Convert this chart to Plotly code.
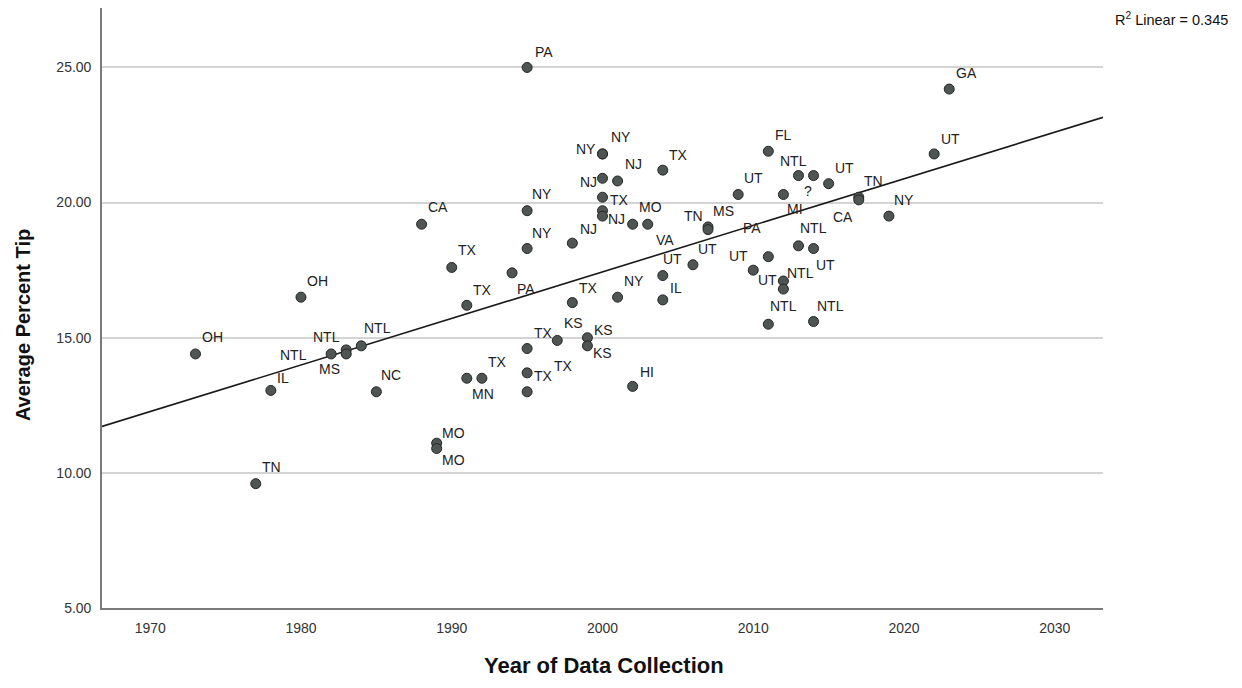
import numpy as np
import plotly.graph_objects as go

# ---------------- data ----------------
years = [1973, 1977, 1978, 1980, 1982, 1983, 1983, 1984, 1985, 1988,
         1989, 1989, 1990, 1991, 1991, 1992, 1994, 1995, 1995, 1995,
         1995, 1995, 1995, 1997, 1998, 1998, 1999, 1999, 2000, 2000,
         2000, 2000, 2000, 2000, 2001, 2001, 2002, 2002, 2003, 2004,
         2004, 2004, 2006, 2007, 2007, 2009, 2010, 2011, 2011, 2011,
         2012, 2012, 2012, 2013, 2013, 2014, 2014, 2014, 2015, 2017,
         2017, 2019, 2022, 2023]
tips = [14.4, 9.6, 13.05, 16.5, 14.4, 14.55, 14.4, 14.7, 13.0, 19.2,
        11.1, 10.9, 17.6, 16.2, 13.5, 13.5, 17.4, 25.0, 19.7, 18.3,
        14.6, 13.7, 13.0, 14.9, 18.5, 16.3, 15.0, 14.7, 21.8, 21.8,
        20.9, 20.2, 19.7, 19.5, 20.8, 16.5, 19.2, 13.2, 19.2, 21.2,
        17.3, 16.4, 17.7, 19.1, 19.0, 20.3, 17.5, 21.9, 18.0, 15.5,
        20.3, 17.1, 16.8, 21.0, 18.4, 21.0, 18.3, 15.6, 20.7, 20.2,
        20.1, 19.5, 21.8, 24.2]
states = ["OH", "TN", "IL", "OH", "NTL", "NTL", "MS", "NTL", "NC", "CA",
          "MO", "MO", "TX", "TX", "MN", "TX", "PA", "PA", "NY", "NY",
          "TX", "TX", "TX", "KS", "NJ", "TX", "KS", "KS", "NY", "NY",
          "NJ", "TX", "", "NJ", "NJ", "NY", "MO", "HI", "VA", "TX",
          "UT", "IL", "UT", "MS", "TN", "UT", "UT", "FL", "PA", "NTL",
          "MI", "NTL", "UT", "NTL", "NTL", "?", "UT", "NTL", "UT", "TN",
          "CA", "NY", "UT", "GA"]

x_tick_values = [1970, 1980, 1990, 2000, 2010, 2020, 2030]
y_tick_values = [5, 10, 15, 20, 25]
r2_text = "0.345"
x_title = "Year of Data Collection"
y_title = "Average Percent Tip"

# ---------------- styling ----------------
X_RANGE = [1966.8, 2033.2]
Y_RANGE = [5, 27.2]
# label offsets in pixels (right, down) relative to each point
label_offsets = [
    (17, -17), (16, -17), (12, -12), (17, -16), (-38, 1), (-20, -13), (-17, 15), (16, -18), (15, -17), (16, -17),
    (17, -10), (17, 11), (16, -17), (16, -15), (16, 16), (16, -16), (14, 16), (17, -15), (15, -17), (15, -16),
    (16, -16), (36, -7), (16, -16), (16, -17), (16, -14), (16, -15), (16, -8), (15, 7), (-17, -5), (18, -17),
    (-14, 4), (17, 3), (0, 0), (14, 3), (16, -17), (16, -16), (18, -17), (14, -14), (17, 16), (16, -15),
    (10, -17), (13, -12), (15, -16), (15, -16), (-15, -14), (15, -16), (-15, -14), (15, -16), (-16, -29), (15, -18),
    (12, 15), (17, -8), (-16, -9), (-5, -15), (15, -18), (-6, 15), (12, 16), (17, -16), (16, -16), (15, -16),
    (-16, 17), (15, -16), (16, -15), (17, -16),
]

FONT = "Liberation Sans, Arial, sans-serif"

# linear fit computed from the data
slope, intercept = np.polyfit(np.array(years, float), np.array(tips, float), 1)
x_fit = np.array(X_RANGE)
y_fit = intercept + slope * x_fit

fig = go.Figure()
fig.add_trace(go.Scatter(
    x=x_fit, y=y_fit, mode="lines",
    line=dict(color="#1a1a1a", width=1.6),
    hoverinfo="skip", showlegend=False,
))
fig.add_trace(go.Scatter(
    x=years, y=tips, mode="markers",
    marker=dict(size=10, color="#4e5552", line=dict(color="#262626", width=1)),
    text=states, showlegend=False,
))

for xv, yv, lab, (dx, dy) in zip(years, tips, states, label_offsets):
    if not lab:
        continue
    fig.add_annotation(
        x=xv, y=yv, xref="x", yref="y", text=lab, showarrow=False,
        xshift=dx, yshift=-dy, xanchor="center", yanchor="middle",
        font=dict(family=FONT, size=14, color="#222222"),
    )

fig.add_annotation(
    xref="paper", yref="paper", x=1.1268, y=0.982, xanchor="right", yanchor="middle",
    text="R<sup>2</sup> Linear = " + r2_text, showarrow=False,
    font=dict(family=FONT, size=14.5, color="#111111"),
)
fig.add_annotation(
    xref="paper", yref="paper", x=0.501, y=-0.095, xanchor="center", yanchor="middle",
    text="<b>" + x_title + "</b>", showarrow=False,
    font=dict(family=FONT, size=22, color="#111111"),
)
fig.add_annotation(
    xref="paper", yref="paper", x=-0.0796, y=0.472, xanchor="center", yanchor="middle",
    text="<b>" + y_title + "</b>", showarrow=False, textangle=-90,
    font=dict(family=FONT, size=20, color="#111111"),
)

fig.update_layout(
    width=1234, height=680,
    margin=dict(l=94, r=139, t=0, b=80),
    paper_bgcolor="white", plot_bgcolor="white",
    font=dict(family=FONT, color="#333333"),
    xaxis=dict(
        range=X_RANGE, tickvals=x_tick_values, ticktext=[str(v) for v in x_tick_values],
        showgrid=False, zeroline=False, showline=True, linecolor="#7a7a7a", linewidth=1.6,
        ticks="", tickfont=dict(family=FONT, size=14, color="#333333"), ticklabelstandoff=6,
    ),
    yaxis=dict(
        range=Y_RANGE, tickvals=y_tick_values, tickformat=".2f",
        showgrid=True, gridcolor="#d4d4d4", gridwidth=2, zeroline=False,
        showline=True, linecolor="#7a7a7a", linewidth=1.6,
        ticks="", tickfont=dict(family=FONT, size=14, color="#333333"), ticklabelstandoff=6,
    ),
)

fig.write_html("out.html")
